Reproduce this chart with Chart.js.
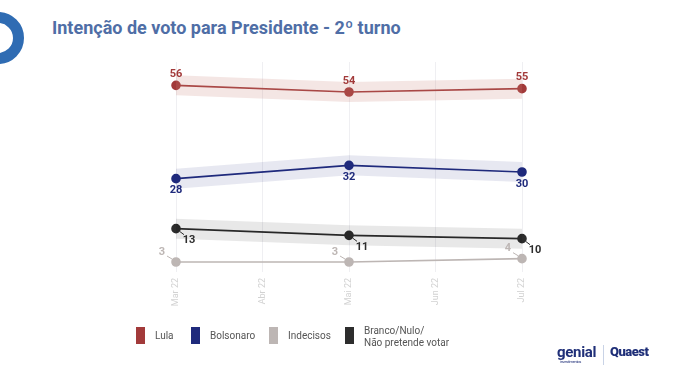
<!DOCTYPE html>
<html>
<head>
<meta charset="utf-8">
<script src="https://cdn.jsdelivr.net/npm/chart.js@4"></script>
<style>
  body { margin: 0; background: #fff; font-family: Roboto, "Noto Sans", sans-serif; }
  #wrap { position: relative; width: 679px; height: 381px; overflow: hidden; }
  #chart { position: absolute; left: 0; top: 0; }
  .ring { position: absolute; left: -28px; top: 12px; width: 30px; height: 30px; border: 11px solid #2f6cb3; border-radius: 50%; }
  .titulo { position: absolute; left: 52px; top: 17px; font-size: 18px; font-weight: 700; color: #4f6ea6; white-space: nowrap; }
  .leg { position: absolute; top: 327px; font-size: 10px; color: #555; line-height: 12px; }
  .leg .sw { position: absolute; left: 0; top: 0; width: 9px; height: 17px; }
  .leg span { position: absolute; left: 19px; top: 3px; white-space: nowrap; }
  .logo1 { position: absolute; left: 557px; top: 343px; font-size: 15px; font-weight: 700; color: #1f2f78; letter-spacing: -0.3px; }
  .logo1 small { position: absolute; left: 3px; top: 16px; font-size: 4px; font-weight: 400; white-space: nowrap; }
  .sep { position: absolute; left: 603px; top: 345px; width: 1px; height: 20px; background: #c9d3e6; }
  .logo2 { position: absolute; left: 610px; top: 344px; font-size: 13px; font-weight: 900; color: #1f2f78; letter-spacing: -0.5px; }
</style>
</head>
<body>
<div id="wrap">
  <div class="ring"></div>
  <div class="titulo">Intenção de voto para Presidente - 2º turno</div>
  <canvas id="chart" width="679" height="381"></canvas>
  <div class="leg" style="left:136px"><div class="sw" style="background:#a23a3a"></div><span>Lula</span></div>
  <div class="leg" style="left:191px"><div class="sw" style="background:#1f2a7c"></div><span>Bolsonaro</span></div>
  <div class="leg" style="left:269px"><div class="sw" style="background:#bdb6b4"></div><span>Indecisos</span></div>
  <div class="leg" style="left:345px"><div class="sw" style="background:#2d2d2d"></div><span style="top:-2px">Branco/Nulo/<br>Não pretende votar</span></div>
  <div class="logo1">genial<small>investimentos</small></div>
  <div class="sep"></div>
  <div class="logo2">Quaest</div>
</div>
<script>
const meses = ["Mar 22", "Abr 22", "Mai 22", "Jun 22", "Jul 22"];
const lula = [56, null, 54, null, 55];
const bolsonaro = [28, null, 32, null, 30];
const indecisos = [3, null, 3, null, 4];
const branco = [13, null, 11, null, 10];
const margem = 3;

const cores = {
  lula: "#a23a3a",
  bolsonaro: "#1f2a7c",
  indecisos: "#bdb6b4",
  branco: "#2d2d2d"
};

function faixa(serie, delta) {
  return serie.map(v => v === null ? null : v + delta);
}

function banda(serie, cor) {
  return [
    { data: faixa(serie, margem), borderWidth: 0, pointRadius: 0, fill: "+1", backgroundColor: cor, spanGaps: true, tension: 0, rotulo: false },
    { data: faixa(serie, -margem), borderWidth: 0, pointRadius: 0, fill: false, spanGaps: true, tension: 0, rotulo: false }
  ];
}

function linha(serie, cor, posicao) {
  return {
    data: serie,
    borderColor: cor,
    backgroundColor: cor,
    borderWidth: 1.6,
    pointRadius: 4,
    pointHoverRadius: 4,
    fill: false,
    spanGaps: true,
    rotulo: posicao
  };
}

// rotulos de valor em cada ponto
const rotulosPlugin = {
  id: "rotulos",
  afterDatasetsDraw(chart) {
    const ctx = chart.ctx;
    chart.data.datasets.forEach((ds, i) => {
      if (!ds.rotulo) return;
      const meta = chart.getDatasetMeta(i);
      meta.data.forEach((pt, j) => {
        const v = ds.data[j];
        if (v === null) return;
        ctx.save();
        ctx.font = "bold 11px Roboto";
        ctx.fillStyle = ds.borderColor;
        ctx.textAlign = "center";
        ctx.textBaseline = "middle";
        let x = pt.x, y = pt.y;
        if (ds.rotulo === "cima") {
          y -= 11;
        } else if (ds.rotulo === "baixo") {
          y += 12;
        } else if (ds.rotulo === "baixoDir") {
          ctx.strokeStyle = ds.borderColor;
          ctx.lineWidth = 1;
          ctx.beginPath();
          ctx.moveTo(x + 4, y + 3);
          ctx.lineTo(x + 8, y + 6);
          ctx.stroke();
          x += 13; y += 12;
        } else if (ds.rotulo === "cimaEsq") {
          ctx.strokeStyle = ds.borderColor;
          ctx.lineWidth = 1;
          ctx.beginPath();
          ctx.moveTo(x - 4, y - 3);
          ctx.lineTo(x - 9, y - 6);
          ctx.stroke();
          x -= 14; y -= 10;
        }
        ctx.fillText(String(v), x, y);
        ctx.restore();
      });
    });
  }
};

const ctx = document.getElementById("chart").getContext("2d");
new Chart(ctx, {
  type: "line",
  data: {
    labels: meses,
    datasets: [
      ...banda(lula, "rgba(200,130,120,0.2)"),
      ...banda(bolsonaro, "rgba(40,50,130,0.11)"),
      ...banda(branco, "rgba(0,0,0,0.09)"),
      linha(lula, cores.lula, "cima"),
      linha(bolsonaro, cores.bolsonaro, "baixo"),
      linha(indecisos, cores.indecisos, "cimaEsq"),
      linha(branco, cores.branco, "baixoDir")
    ]
  },
  options: {
    responsive: false,
    animation: false,
    layout: { padding: { left: 176, right: 157, top: 62, bottom: 71 } },
    plugins: { legend: { display: false }, tooltip: { enabled: false } },
    scales: {
      x: {
        offset: false,
        grid: { color: "#efeff2", drawTicks: false },
        border: { display: false },
        afterFit: (axis) => { axis.height = 38; },
        ticks: {
          minRotation: 90,
          maxRotation: 90,
          padding: 6,
          color: "#d2d2d2",
          font: { family: "Roboto", size: 9 }
        }
      },
      y: {
        display: false,
        min: 0,
        max: 63
      }
    }
  },
  plugins: [rotulosPlugin]
});
</script>
</body>
</html>
